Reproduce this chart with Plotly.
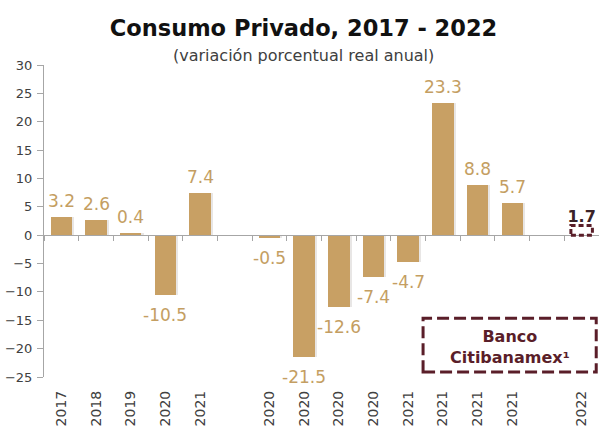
import plotly.graph_objects as go

# Annual private consumption growth (real, % y/y)
annual_years = ["2017", "2018", "2019", "2020", "2021"]
annual_values = [3.2, 2.6, 0.4, -10.5, 7.4]

# Quarterly growth, 2020 Q1 - 2021 Q4
quarter_labels = ["2020", "2020", "2020", "2020", "2021", "2021", "2021", "2021"]
quarter_values = [-0.5, -21.5, -12.6, -7.4, -4.7, 23.3, 8.8, 5.7]

# Forecast
forecast_label = "2022"
forecast_value = 1.7

y_ticks = [30, 25, 20, 15, 10, 5, 0, -5, -10, -15, -20, -25]

BAR = "#C8A064"
LABEL = "#C49E62"
MAROON = "#5A1E29"
AXIS = "#A6A6A6"
TXT = "#404040"
FONT = "DejaVu Sans"

# slot layout: annual bars, empty slot, quarterly bars, empty slot, forecast
annual_x = list(range(len(annual_years)))
q_start = len(annual_years) + 1
quarter_x = [q_start + i for i in range(len(quarter_labels))]
forecast_x = quarter_x[-1] + 2
n_slots = forecast_x + 1

obs_x = annual_x + quarter_x
obs_y = annual_values + quarter_values
bar_w = 0.62

fig = go.Figure()

# soft drop shadow behind the bars
fig.add_trace(go.Bar(
    x=obs_x, y=obs_y, width=bar_w, offset=-bar_w / 2 + 0.06,
    marker=dict(color="rgba(90,80,70,0.14)", line=dict(width=0)),
    hoverinfo="skip", showlegend=False,
))
fig.add_trace(go.Bar(
    x=obs_x, y=obs_y, width=bar_w, offset=-bar_w / 2,
    marker=dict(color=BAR, line=dict(width=0)),
    showlegend=False,
))

# forecast value label, on the zero-line axis
fig.add_trace(go.Scatter(
    x=[forecast_x], y=[forecast_value], mode="text",
    text=[f"{forecast_value:.1f}"], textposition="top center",
    textfont=dict(family=FONT, size=16, color="#3A2328", weight="bold"),
    xaxis="x2", showlegend=False, hoverinfo="skip", cliponaxis=False,
))

# value labels
for xv, yv in zip(obs_x, obs_y):
    fig.add_annotation(
        x=xv, y=yv, xref="x", yref="y", text=f"{yv:.1f}", showarrow=False,
        xanchor="center", yanchor="middle", yshift=16 if yv >= 0 else -20,
        font=dict(family=FONT, size=17, color=LABEL),
    )

# forecast bar: dashed outline
fig.add_shape(
    type="rect", xref="x", yref="y",
    x0=forecast_x - bar_w / 2, x1=forecast_x + bar_w / 2,
    y0=0, y1=forecast_value,
    line=dict(color=MAROON, width=3, dash="5px,3px"),
    fillcolor="rgba(0,0,0,0)",
)

# source box
fig.add_shape(
    type="rect", xref="paper", yref="paper",
    x0=0.683, x1=0.995, y0=0.016, y1=0.188,
    line=dict(color=MAROON, width=3, dash="12px,5px"),
)
fig.add_annotation(
    x=0.84, y=0.097, xref="paper", yref="paper", showarrow=False,
    xanchor="center", yanchor="middle",
    text="<b>Banco<br>Citibanamex¹</b>", align="center",
    font=dict(family=FONT, size=16, color=MAROON),
)

# subtitle
fig.add_annotation(
    x=0.4676, y=1.029, xref="paper", yref="paper", showarrow=False,
    xanchor="center", yanchor="middle",
    text="(variación porcentual real anual)",
    font=dict(family=FONT, size=16, color=TXT),
)

tick_pos = annual_x + quarter_x + [forecast_x]
tick_txt = annual_years + quarter_labels + [forecast_label]
y_lo, y_hi = -25, 30

fig.update_layout(
    width=599, height=434,
    margin=dict(l=44, r=0, t=65, b=57),
    paper_bgcolor="white", plot_bgcolor="white",
    bargap=0, barmode="overlay",
    title=dict(
        text="<b>Consumo Privado, 2017 - 2022</b>",
        xref="container", x=303.5 / 599, xanchor="center",
        yref="container", y=1 - 28 / 434, yanchor="middle",
        font=dict(family=FONT, size=22.5, color="#111111"),
    ),
    xaxis=dict(
        range=[-0.5, n_slots - 0.5], tickmode="array",
        tickvals=tick_pos, ticktext=tick_txt, tickangle=-90,
        showline=False, showgrid=False, zeroline=False, ticks="",
        ticklabelstandoff=10,
        tickfont=dict(family=FONT, size=14, color=TXT),
    ),
    xaxis2=dict(
        overlaying="x", anchor="free",
        position=(0 - y_lo) / (y_hi - y_lo),
        range=[-0.5, n_slots - 0.5], tickmode="array",
        tickvals=[i + 0.5 for i in range(-1, n_slots)],
        showticklabels=False, ticks="outside", ticklen=5,
        tickcolor=AXIS, showline=True, linecolor=AXIS, linewidth=1,
        showgrid=False, zeroline=False,
    ),
    yaxis=dict(
        range=[y_lo, y_hi], tickmode="array", tickvals=y_ticks,
        showline=True, linecolor=AXIS, linewidth=1,
        ticks="outside", ticklen=6, tickcolor=AXIS,
        showgrid=False, zeroline=False, ticklabelstandoff=2,
        tickfont=dict(family=FONT, size=13, color=TXT),
    ),
)

fig.write_html("out.html")
